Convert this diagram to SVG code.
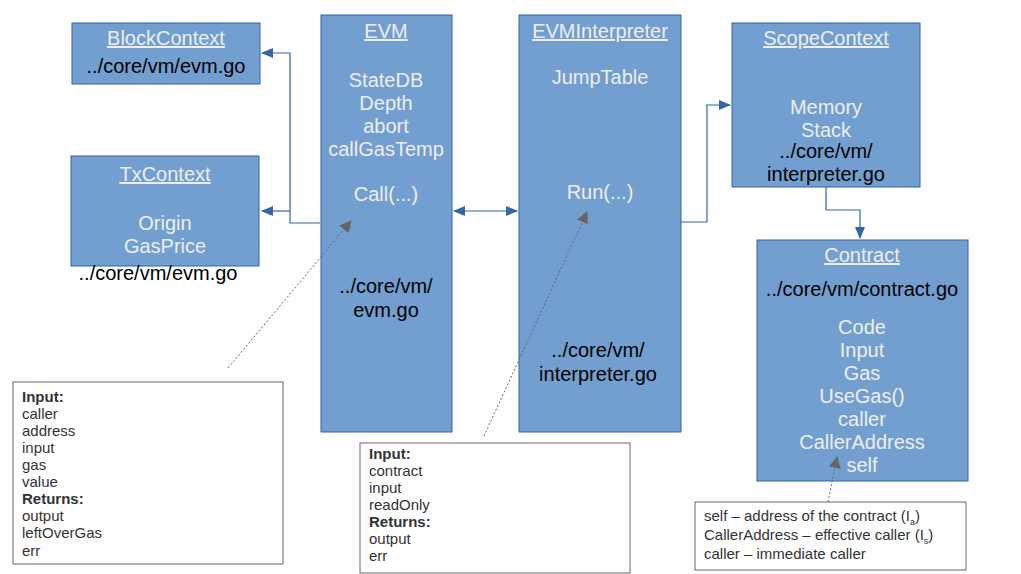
<svg xmlns="http://www.w3.org/2000/svg" width="1021" height="574" viewBox="0 0 1021 574">
<defs>
<marker id="ah" markerWidth="12" markerHeight="10" refX="11" refY="5" orient="auto" markerUnits="userSpaceOnUse">
<path d="M0,0 L12,5 L0,10 Z" fill="#3465a4"/>
</marker>
<marker id="ahs" markerWidth="12" markerHeight="10" refX="1" refY="5" orient="auto" markerUnits="userSpaceOnUse">
<path d="M12,0 L0,5 L12,10 Z" fill="#3465a4"/>
</marker>
<marker id="gh" markerWidth="12" markerHeight="12" refX="11" refY="6" orient="auto" markerUnits="userSpaceOnUse">
<path d="M0,0 L12,6 L0,12 Z" fill="#666666"/>
</marker>
</defs>
<style>
.box{fill:#729fcf;stroke:#3465a4;stroke-width:1}
.note{fill:#ffffff;stroke:#666666;stroke-width:1}
.t{font-family:"Liberation Sans",Arial,sans-serif;font-size:20px;text-anchor:middle}
.ttl{fill:#eeeeee;text-decoration:underline}
.w{fill:#eeeeee}
.b{fill:#000000}
.n{font-family:"Liberation Sans",Arial,sans-serif;font-size:15px;fill:#333333}
.bold{font-weight:bold}
.c{fill:none;stroke:#3465a4;stroke-width:1.2}
.d{fill:none;stroke:#666666;stroke-width:1;stroke-dasharray:2,2}
</style>
<rect width="1021" height="574" fill="#ffffff"/>
<g id="BlockContext">
<rect class="box" x="72" y="23" width="188" height="61"/>
<text class="t ttl" x="166" y="45">BlockContext</text>
<text class="t b" x="166" y="73">../core/vm/evm.go</text>
</g>
<g id="TxContext">
<rect class="box" x="71" y="156" width="188" height="110"/>
<text class="t ttl" x="165" y="181">TxContext</text>
<text class="t w" x="165" y="230">Origin</text>
<text class="t w" x="165" y="253">GasPrice</text>
<text class="t b" x="158" y="280">../core/vm/evm.go</text>
</g>
<g id="EVM">
<rect class="box" x="321" y="15" width="131" height="417"/>
<text class="t ttl" x="386" y="38">EVM</text>
<text class="t w" x="386" y="87">StateDB</text>
<text class="t w" x="386" y="110">Depth</text>
<text class="t w" x="386" y="133">abort</text>
<text class="t w" x="386" y="156">callGasTemp</text>
<text class="t w" x="386" y="201">Call(...)</text>
<text class="t b" x="386" y="293">../core/vm/</text>
<text class="t b" x="386" y="317">evm.go</text>
</g>
<g id="EVMInterpreter">
<rect class="box" x="519" y="15" width="162" height="417"/>
<text class="t ttl" x="600" y="38">EVMInterpreter</text>
<text class="t w" x="600" y="84">JumpTable</text>
<text class="t w" x="600" y="199">Run(...)</text>
<text class="t b" x="598" y="357">../core/vm/</text>
<text class="t b" x="598" y="381">interpreter.go</text>
</g>
<g id="ScopeContext">
<rect class="box" x="732" y="23" width="188" height="164"/>
<text class="t ttl" x="826" y="45">ScopeContext</text>
<text class="t w" x="826" y="114">Memory</text>
<text class="t w" x="826" y="137">Stack</text>
<text class="t b" x="826" y="158">../core/vm/</text>
<text class="t b" x="826" y="181">interpreter.go</text>
</g>
<g id="Contract">
<rect class="box" x="757" y="240" width="211" height="241"/>
<text class="t ttl" x="862" y="262">Contract</text>
<text class="t b" x="862" y="296">../core/vm/contract.go</text>
<text class="t w" x="862" y="334">Code</text>
<text class="t w" x="862" y="357">Input</text>
<text class="t w" x="862" y="380">Gas</text>
<text class="t w" x="862" y="403">UseGas()</text>
<text class="t w" x="862" y="426">caller</text>
<text class="t w" x="862" y="449">CallerAddress</text>
<text class="t w" x="862" y="472">self</text>
</g>
<g id="CallNote">
<rect class="note" x="13" y="382" width="270" height="182"/>
<text class="n bold" x="22" y="402">Input:</text>
<text class="n" x="22" y="419">caller</text>
<text class="n" x="22" y="436">address</text>
<text class="n" x="22" y="453">input</text>
<text class="n" x="22" y="470">gas</text>
<text class="n" x="22" y="487">value</text>
<text class="n bold" x="22" y="504">Returns:</text>
<text class="n" x="22" y="521">output</text>
<text class="n" x="22" y="538">leftOverGas</text>
<text class="n" x="22" y="556">err</text>
</g>
<g id="RunNote">
<rect class="note" x="360" y="443" width="270" height="130"/>
<text class="n bold" x="369" y="459">Input:</text>
<text class="n" x="369" y="476">contract</text>
<text class="n" x="369" y="493">input</text>
<text class="n" x="369" y="510">readOnly</text>
<text class="n bold" x="369" y="527">Returns:</text>
<text class="n" x="369" y="544">output</text>
<text class="n" x="369" y="561">err</text>
</g>
<g id="ContractNote">
<rect class="note" x="695" y="502" width="271" height="68"/>
<text class="n" x="704" y="521">self – address of the contract (I<tspan font-size="9" dy="4">a</tspan><tspan dy="-4">)</tspan></text>
<text class="n" x="704" y="540">CallerAddress – effective caller (I<tspan font-size="9" dy="4">s</tspan><tspan dy="-4">)</tspan></text>
<text class="n" x="704" y="559">caller – immediate caller</text>
</g>
<g id="connectors">
<polyline class="c" points="320,223 290,223 290,53 262,53" marker-end="url(#ah)"/>
<polyline class="c" points="290,211 262,211" marker-end="url(#ah)"/>
<line class="c" x1="454" y1="211" x2="517" y2="211" marker-start="url(#ahs)" marker-end="url(#ah)"/>
<polyline class="c" points="681,222 707,222 707,105 730,105" marker-end="url(#ah)"/>
<polyline class="c" points="826,187 826,210 860,210 860,238" marker-end="url(#ah)"/>
<line class="d" x1="228" y1="368" x2="351" y2="221" marker-end="url(#gh)"/>
<line class="d" x1="484" y1="436" x2="587" y2="212" marker-end="url(#gh)"/>
<line class="d" x1="828" y1="502" x2="837" y2="457" marker-end="url(#gh)"/>
</g>
</svg>
